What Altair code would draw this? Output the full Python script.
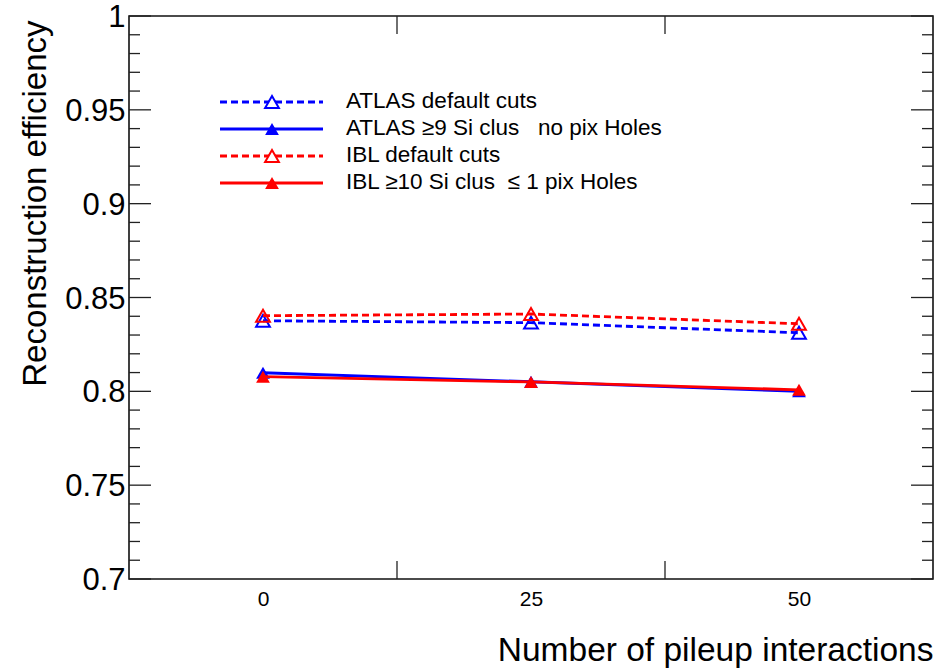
import altair as alt
import pandas as pd

# ---------------- data ----------------
pileup = [0, 25, 50]
atlas_default = [0.8376, 0.8366, 0.8312]
atlas_tight = [0.8099, 0.8051, 0.8000]
ibl_default = [0.8403, 0.8412, 0.8360]
ibl_tight = [0.8078, 0.8050, 0.8008]

series_labels = [
    "ATLAS default cuts",
    "ATLAS \u22659 Si clus\u00a0\u00a0 no pix Holes",
    "IBL default cuts",
    "IBL \u226510 Si clus\u00a0 \u2264 1 pix Holes",
]
series_values = [atlas_default, atlas_tight, ibl_default, ibl_tight]
series_colors = ["#0000ff", "#0000ff", "#ff0000", "#ff0000"]
series_dashed = [True, False, True, False]

y_label_values = [0.7, 0.75, 0.8, 0.85, 0.9, 0.95, 1.0]
y_minor_ticks = [0.71, 0.72, 0.73, 0.74, 0.76, 0.77, 0.78, 0.79,
                 0.81, 0.82, 0.83, 0.84, 0.86, 0.87, 0.88, 0.89,
                 0.91, 0.92, 0.93, 0.94, 0.96, 0.97, 0.98, 0.99]
x_label_values = [0, 25, 50]
x_tick_marks = [12.5, 37.5]

# ---------------- layout ----------------
W, H = 804, 563
FONT = "Liberation Sans"
DASH = [7, 4]

xs = alt.Scale(domain=[-12.5, 62.5], nice=False, zero=False)
ys = alt.Scale(domain=[0.7, 1.0], nice=False, zero=False)

x_axis = alt.Axis(
    values=x_label_values, ticks=False, domain=False, grid=False,
    labelFont=FONT, labelFontSize=21, labelColor="black", labelPadding=9,
    labelFlush=False, labelOverlap=False,
    title="Number of pileup interactions", titleFont=FONT, titleFontSize=33.5,
    titleFontWeight="normal", titleColor="black", titleAlign="right",
    titleBaseline="alphabetic", titleX=W, titleY=81,
)
y_axis = alt.Axis(
    values=y_label_values, format=".2~f", ticks=False, domain=False, grid=False,
    labelFont=FONT, labelFontSize=31, labelColor="black", labelPadding=4,
    labelFlush=False, labelOverlap=False, labelOffset=1.5,
    title="Reconstruction efficiency", titleFont=FONT, titleFontSize=33,
    titleFontWeight="normal", titleColor="black", titleAngle=270,
    titleAlign="right", titleBaseline="alphabetic", titleX=-84, titleY=4,
)

X = alt.X("x:Q", scale=xs, axis=x_axis)
Y = alt.Y("y:Q", scale=ys, axis=y_axis)

layers = []

# tick marks (drawn inward, ROOT style)
ymaj = pd.DataFrame({"y": y_label_values})
ymin = pd.DataFrame({"y": y_minor_ticks})
xt = pd.DataFrame({"x": x_tick_marks})
tick_style = dict(color="#222222", strokeWidth=1.3)
layers.append(alt.Chart(ymaj).mark_rule(**tick_style).encode(y=Y, x=alt.value(0), x2=alt.value(22)))
layers.append(alt.Chart(ymaj).mark_rule(**tick_style).encode(y=Y, x=alt.value(W - 22), x2=alt.value(W)))
layers.append(alt.Chart(ymin).mark_rule(**tick_style).encode(y=Y, x=alt.value(0), x2=alt.value(11)))
layers.append(alt.Chart(ymin).mark_rule(**tick_style).encode(y=Y, x=alt.value(W - 11), x2=alt.value(W)))
layers.append(alt.Chart(xt).mark_rule(**tick_style).encode(x=X, y=alt.value(H - 18), y2=alt.value(H)))
layers.append(alt.Chart(xt).mark_rule(**tick_style).encode(x=X, y=alt.value(0), y2=alt.value(18)))

# series
for label, vals, col, dashed in zip(series_labels, series_values, series_colors, series_dashed):
    df = pd.DataFrame({"x": pileup, "y": vals, "series": label})
    line_kw = dict(color=col, strokeWidth=2.8)
    if dashed:
        line_kw["strokeDash"] = DASH
    layers.append(alt.Chart(df).mark_line(**line_kw).encode(x=X, y=Y))
    layers.append(
        alt.Chart(df).mark_point(
            shape="triangle-up", size=190, filled=not dashed, color=col,
            strokeWidth=2, opacity=1,
        ).encode(x=X, y=Y)
    )

# legend (manual, ROOT TLegend style)
legend_rows = [86, 113, 140, 167]
one = pd.DataFrame({"k": [0]})
for label, col, dashed, ry in zip(series_labels, series_colors, series_dashed, legend_rows):
    rule_kw = dict(color=col, strokeWidth=2.8)
    if dashed:
        rule_kw["strokeDash"] = DASH
    layers.append(alt.Chart(one).mark_rule(**rule_kw).encode(
        x=alt.value(91), x2=alt.value(194), y=alt.value(ry)))
    layers.append(alt.Chart(one).mark_point(
        shape="triangle-up", size=190, filled=not dashed, color=col,
        strokeWidth=2, opacity=1,
        fill=(col if not dashed else "white"),
    ).encode(x=alt.value(143), y=alt.value(ry)))
    layers.append(alt.Chart(pd.DataFrame({"t": [label]})).mark_text(
        font=FONT, fontSize=22.5, color="black", align="left", baseline="middle",
    ).encode(x=alt.value(217), y=alt.value(ry - 1), text="t:N"))

chart = alt.layer(*layers).properties(
    width=W, height=H,
    autosize=alt.AutoSizeParams(type="none"),
    padding={"left": 129, "top": 16, "right": 7, "bottom": 92},
    background="white",
).configure_view(stroke="#111111", strokeWidth=1.6)

chart.save("out.html", embed_options={"renderer": "svg", "actions": False})
